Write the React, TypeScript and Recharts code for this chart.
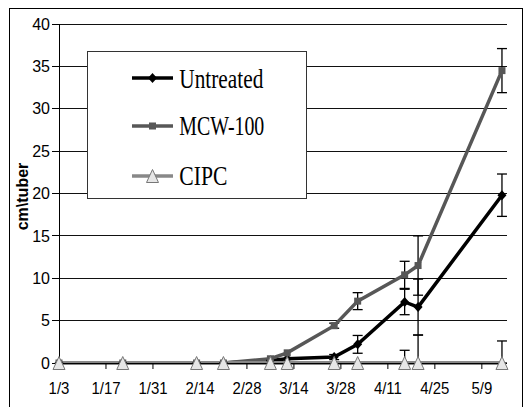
import React from "react";
import { LineChart, Line, XAxis, YAxis, CartesianGrid, ErrorBar, Legend } from "recharts";

// ---- data ----
const dates = ["1/3", "1/22", "2/13", "2/21", "3/7", "3/12", "3/26", "4/2", "4/16", "4/20", "5/15"];
const untreated = [0, 0, 0, 0, 0.3, 0.5, 0.7, 2.2, 7.2, 6.6, 19.8];
const untreatedErr = [0, 0, 0, 0, 0, 0, 0.3, 1.05, 1.5, 3.3, 2.5];
const mcw100 = [0, 0, 0, 0, 0.5, 1.2, 4.4, 7.3, 10.4, 11.5, 34.5];
const mcw100Err = [0, 0, 0, 0, 0, 0, 0.3, 1.0, 1.6, 3.5, 2.6];
const cipc = [0, 0, 0, 0, 0, 0, 0, 0, 0, 0, 0];
const cipcErr = [0, 0, 0, 0, 0, 0, 0, 0, 1.5, 3.3, 2.6];

const seriesNames = ["Untreated", "MCW-100", "CIPC"];
const xTickLabels = ["1/3", "1/17", "1/31", "2/14", "2/28", "3/14", "3/28", "4/11", "4/25", "5/9"];
const yTicks = [0, 5, 10, 15, 20, 25, 30, 35, 40];
const yLabel = "cm\\tuber";
const xStart = "1/3";
const xEndDays = 133.5;

// ---- helpers ----
const monthStarts = [0, 31, 59, 90, 120, 151, 181, 212, 243, 273, 304, 334];
const doy = (s: string) => {
  const [m, d] = s.split("/").map(Number);
  return monthStarts[m - 1] + d;
};
const dayOf = (s: string) => doy(s) - doy(xStart);
const xTicks = xTickLabels.map(dayOf);
const labelByDay: Record<number, string> = {};
xTickLabels.forEach((l) => (labelByDay[dayOf(l)] = l));

const data = dates.map((d, i) => ({
  day: dayOf(d),
  u: untreated[i],
  uErr: untreatedErr[i],
  m: mcw100[i],
  mErr: mcw100Err[i],
  c: cipc[i],
  cErr: cipcErr[i] ? [0, cipcErr[i]] : 0,
}));

const C_U = "#000000";
const C_M = "#575757";
const C_C = "#888888";
const TRI_FILL = "#e6e6e6";
const SERIF = '"Liberation Serif", "Times New Roman", "DejaVu Serif", serif';

const diamondPts = (cx: number, cy: number) =>
  `${cx},${cy - 5} ${cx + 4.5},${cy} ${cx},${cy + 5} ${cx - 4.5},${cy}`;
const trianglePts = (cx: number, cy: number) =>
  `${cx},${cy - 6.5} ${cx + 6},${cy + 6.5} ${cx - 6},${cy + 6.5}`;

const DiamondDot = (p: any) => {
  if (p.cx == null || p.cy == null) return null;
  return <polygon key={p.key} points={diamondPts(p.cx, p.cy)} fill={C_U} />;
};
const SquareDot = (p: any) => {
  if (p.cx == null || p.cy == null) return null;
  return <rect key={p.key} x={p.cx - 3.5} y={p.cy - 3.5} width={7} height={7} fill={C_M} />;
};
const TriangleDot = (p: any) => {
  if (p.cx == null || p.cy == null) return null;
  return <polygon key={p.key} points={trianglePts(p.cx, p.cy)} fill={TRI_FILL} stroke="#777" strokeWidth={1} />;
};

const XTick = (p: any) => {
  const { x, y, payload } = p;
  return (
    <g transform={`translate(${x},${y})`}>
      <text x={0} y={0} dy="0.71em" textAnchor="middle" fontSize={17} fill="#000" transform="scale(0.88,1)">
        {labelByDay[payload.value] ?? ""}
      </text>
    </g>
  );
};

const YLabel = (p: any) => {
  const vb = p.viewBox || { x: 16, y: 16, width: 40, height: 339 };
  const cx = vb.x + 3;
  const cy = vb.y + vb.height / 2 + 3;
  return (
    <text x={cx} y={cy} transform={`rotate(-90, ${cx}, ${cy})`} textAnchor="middle" dominantBaseline="central"
      fontWeight="bold" fontSize={16} fill="#000">
      {yLabel}
    </text>
  );
};

const GridLine = (p: any) => (
  <line key={p.key} x1={p.x1} y1={p.y1} x2={p.x2} y2={p.y2} stroke="#111" strokeWidth={1} shapeRendering="crispEdges" />
);

const legendLayout = [
  { lineY: 27, baseY: 37, len: 84, color: C_U, marker: "diamond" },
  { lineY: 75, baseY: 84, len: 85, color: C_M, marker: "square" },
  { lineY: 125, baseY: 134, len: 48, color: C_C, marker: "triangle" },
];

const renderLegend = () => (
  <svg width={221} height={150} style={{ display: "block" }}>
    <rect x={0.5} y={0.5} width={219} height={147} fill="#fff" stroke="#333" strokeWidth={1} shapeRendering="crispEdges" />
    {seriesNames.map((name, i) => {
      const it = legendLayout[i];
      const cx = 65.5;
      return (
        <g key={name}>
          <line x1={45} x2={86} y1={it.lineY} y2={it.lineY} stroke={it.color} strokeWidth={3.5} />
          {it.marker === "diamond" && <polygon points={diamondPts(cx, it.lineY)} fill={C_U} />}
          {it.marker === "square" && <rect x={cx - 3.5} y={it.lineY - 3.5} width={7} height={7} fill={C_M} />}
          {it.marker === "triangle" && (
            <polygon points={trianglePts(cx, it.lineY)} fill={TRI_FILL} stroke="#777" strokeWidth={1} />
          )}
          <text x={92.3} y={it.baseY} style={{ fontFamily: SERIF, fontSize: 28 }}
            fill="#000" textLength={it.len} lengthAdjust="spacingAndGlyphs">
            {name}
          </text>
        </g>
      );
    })}
  </svg>
);

export default function App() {
  return (
    <div style={{ position: "relative", width: 516, height: 400 }}>
      <div
        style={{
          position: "absolute", left: 1, top: 0, width: 514, height: 400,
          border: "1px solid #000", boxSizing: "border-box", pointerEvents: "none",
        }}
      />
      <LineChart
        width={516}
        height={400}
        data={data}
        margin={{ top: 16, right: 17, bottom: 15, left: 11 }}
        style={{ fontFamily: '"Liberation Sans", Arial, sans-serif' }}
      >
        <CartesianGrid vertical={false} horizontal={GridLine} />
        <XAxis
          type="number"
          dataKey="day"
          domain={[0, xEndDays]}
          ticks={xTicks}
          tick={<XTick />}
          tickSize={6}
          tickMargin={13}
          height={30}
          axisLine={{ stroke: "#000", shapeRendering: "crispEdges" }}
          tickLine={{ stroke: "#000" }}
          interval={0}
        />
        <YAxis
          type="number"
          domain={[0, 40]}
          ticks={yTicks}
          width={40}
          tickSize={7}
          tickMargin={2}
          tick={{ fontSize: 16, fill: "#000" }}
          axisLine={{ stroke: "#000", shapeRendering: "crispEdges" }}
          tickLine={{ stroke: "#000", shapeRendering: "crispEdges" }}
          interval={0}
          label={<YLabel />}
        />
        <Legend
          layout="vertical"
          align="center"
          verticalAlign="middle"
          content={renderLegend}
          wrapperStyle={{ position: "absolute", left: 79, top: 43, width: 221, height: 150 }}
        />
        <Line name={seriesNames[0]} dataKey="u" stroke={C_U} strokeWidth={3.5} dot={DiamondDot} isAnimationActive={false} type="linear">
          <ErrorBar dataKey="uErr" width={5} stroke="#000" strokeWidth={1.3} direction="y" />
        </Line>
        <Line name={seriesNames[1]} dataKey="m" stroke={C_M} strokeWidth={3.5} dot={SquareDot} isAnimationActive={false} type="linear">
          <ErrorBar dataKey="mErr" width={5} stroke="#000" strokeWidth={1.3} direction="y" />
        </Line>
        <Line name={seriesNames[2]} dataKey="c" stroke={C_C} strokeWidth={4} dot={TriangleDot} isAnimationActive={false} type="linear">
          <ErrorBar dataKey="cErr" width={5} stroke="#000" strokeWidth={1.3} direction="y" />
        </Line>
      </LineChart>
    </div>
  );
}
